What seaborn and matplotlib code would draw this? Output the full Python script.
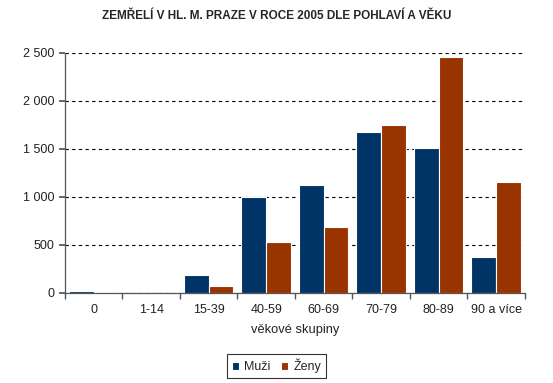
import numpy as np
import pandas as pd
import matplotlib
matplotlib.use("Agg")
import matplotlib.pyplot as plt
import seaborn as sns
from matplotlib.ticker import FuncFormatter, FixedLocator

# data
age_groups = ["0", "1-14", "15-39", "40-59", "60-69", "70-79", "80-89", "90 a více"]
muzi = [20, 4, 187, 1000, 1125, 1677, 1510, 378]
zeny = [8, 3, 73, 527, 688, 1750, 2458, 1156]

df = pd.DataFrame({
    "skupina": age_groups * 2,
    "pocet": muzi + zeny,
    "pohlavi": ["Muži"] * len(age_groups) + ["Ženy"] * len(age_groups),
})

sns.set_theme(style="white")
plt.rcParams["font.family"] = ["Liberation Sans", "DejaVu Sans"]

fig = plt.figure(figsize=(5.53, 3.83), dpi=100)
ax = fig.add_axes([0.1175, 0.235, 0.8315, 0.627])

sns.barplot(data=df, x="skupina", y="pocet", hue="pohlavi",
            palette={"Muži": "#003366", "Ženy": "#993300"},
            width=0.86, edgecolor="white", linewidth=0.8,
            saturation=1, ax=ax)

ax.set_ylim(0, 2500)
ax.set_xlim(-0.5, len(age_groups) - 0.5)
ax.set_yticks(np.arange(0, 2501, 500))
ax.yaxis.set_major_formatter(FuncFormatter(lambda v, p: f"{int(v):,}".replace(",", " ")))
ax.yaxis.grid(True, linestyle=(0, (3, 3)), color="black", linewidth=0.8)
ax.set_axisbelow(True)

ax.xaxis.set_minor_locator(FixedLocator(np.arange(-0.5, len(age_groups), 1)))
ax.tick_params(axis="x", which="major", length=0, labelsize=9, pad=8, colors="#222222")
ax.tick_params(axis="x", which="minor", length=4, color="#555555", direction="out", bottom=True)
ax.tick_params(axis="y", length=4, labelsize=9, color="#555555", left=True, colors="#222222")

for s in ["top", "right"]:
    ax.spines[s].set_visible(False)
for s in ["left", "bottom"]:
    ax.spines[s].set_color("#555555")
    ax.spines[s].set_linewidth(0.9)

ax.set_xlabel("věkové skupiny", fontsize=9.3, labelpad=6, color="#222222")
ax.set_ylabel("")

fig.suptitle("ZEMŘELÍ V HL. M. PRAZE V ROCE 2005 DLE POHLAVÍ A VĚKU",
             x=0.5, y=0.975, fontsize=8.5, fontweight="bold")

leg = ax.legend(loc="center", bbox_to_anchor=(0.5, 0.045), bbox_transform=fig.transFigure,
                ncol=2, frameon=True, fancybox=False, fontsize=9,
                handlelength=0.6, handleheight=0.6, handletextpad=0.4,
                columnspacing=0.8, borderpad=0.4)
leg.get_frame().set_edgecolor("black")
leg.get_frame().set_linewidth(0.8)

fig.savefig("out.png", dpi=100)
